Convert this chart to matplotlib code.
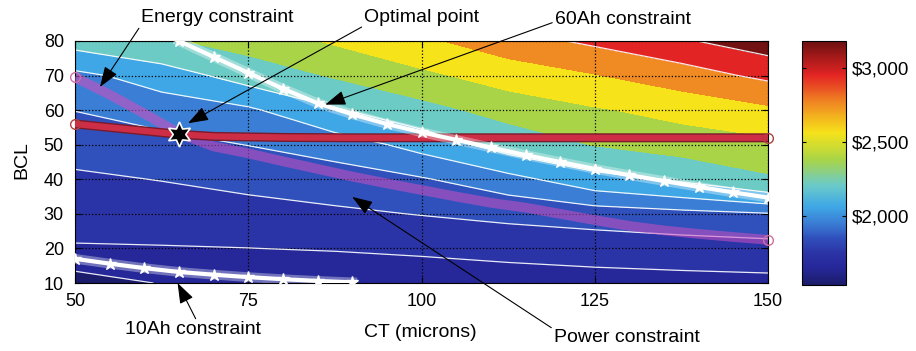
import numpy as np
import matplotlib
matplotlib.use('Agg')
import matplotlib.pyplot as plt
import matplotlib.patheffects as pe
from matplotlib.colors import LinearSegmentedColormap, Normalize
from matplotlib.cm import ScalarMappable

plt.rcParams['font.family'] = ['Liberation Sans', 'DejaVu Sans']

# grid of the cost surface
ct = [50, 62.5, 75, 87.5, 100, 112.5, 125, 137.5, 150]
bcl = [10, 20, 30, 40, 50, 60, 70, 80]
cost = [
    [1552, 1605, 1623, 1633, 1643, 1653, 1662, 1668, 1674],  # bcl 10
    [1693, 1695, 1699, 1706, 1717, 1732, 1745, 1756, 1764],  # bcl 20
    [1738, 1749, 1763, 1782, 1804, 1827, 1847, 1869, 1893],  # bcl 30
    [1784, 1803, 1830, 1858, 1891, 1961, 2075, 2146, 2266],  # bcl 40
    [1840, 1871, 1902, 1941, 2038, 2188, 2297, 2369, 2412],  # bcl 50
    [1902, 1941, 1980, 2109, 2232, 2353, 2441, 2519, 2622],  # bcl 60
    [1970, 2054, 2186, 2307, 2420, 2544, 2649, 2774, 2905],  # bcl 70
    [2180, 2264, 2366, 2482, 2620, 2780, 2900, 3018, 3140],  # bcl 80
]
levels = [1400, 1600, 1700, 1800, 1900, 2000, 2125, 2290, 2460, 2660, 2860, 3040, 3300]
line_levels = [1600, 1700, 1800, 1900, 2000, 2125, 2860, 3040]

# constraint curves
ah60_ct = [65, 70, 75, 80, 85, 90, 95, 100, 105, 110, 115, 120, 125, 130, 135, 140, 145, 150]
ah60_bcl = [80.0, 75.4, 70.8, 66.2, 62.0, 58.8, 56.0, 53.6, 51.4, 49.2, 47.0, 45.0, 43.0, 41.2, 39.5, 37.8, 36.2, 34.7]
ah10_ct = [50, 55, 60, 65, 70, 75, 80, 85, 90]
ah10_bcl = [17.0, 15.6, 14.3, 13.2, 12.4, 11.7, 11.1, 10.6, 10.2]
energy_ct = [50, 55, 60, 65]
energy_bcl = [69.5, 64.5, 59.0, 53.3]
power_ct = [65, 70, 75, 80, 85, 90, 95, 100, 105, 110, 115, 120, 125, 130, 135, 140, 145, 150]
power_bcl = [53.3, 49.5, 47.5, 45.2, 43.0, 40.8, 38.8, 36.9, 35.0, 33.2, 31.8, 30.0, 28.2, 26.5, 25.2, 24.2, 23.3, 22.5]
limit_ct = [50, 55, 60, 65, 70, 80, 90, 100, 110, 120, 130, 140, 150]
limit_bcl = [56.0, 55.0, 54.0, 53.0, 52.4, 52.1, 52.0, 52.0, 52.0, 52.0, 52.0, 52.0, 52.0]
opt_ct, opt_bcl = 65, 53.0

cbar_ticks = [2000, 2500, 3000]
cbar_labels = [r'\$2,000', r'\$2,500', r'\$3,000']

# muted jet, like the printed figure
vmin, vmax = 1530, 3180
stops = [(1530, '#1c1c6c'), (1650, '#26289a'), (1750, '#2b34a6'), (1850, '#3052bd'),
         (1950, '#3a7fd5'), (2062, '#40a8e6'), (2207, '#6ccbc8'), (2375, '#a8d448'),
         (2560, '#f6e31a'), (2760, '#f08a22'), (2950, '#e42424'), (3180, '#6e1010')]
cmap = LinearSegmentedColormap.from_list(
    'mjet', [((v - vmin) / (vmax - vmin), c) for v, c in stops])
norm = Normalize(vmin, vmax)

fig = plt.figure(figsize=(9.16, 3.51), dpi=100)
ax = fig.add_axes([0.0819, 0.1937, 0.7566, 0.6895])

X, Y = np.meshgrid(ct, bcl)
Z = np.array(cost)
ax.contourf(X, Y, Z, levels=levels, cmap=cmap, norm=norm)
ax.contour(X, Y, Z, levels=line_levels, colors='white', linewidths=0.9, alpha=0.9)

ax.grid(True, linestyle=':', color='black', linewidth=0.9)

# constraints
ax.plot(energy_ct, energy_bcl, color='#cc50c0', lw=7, alpha=0.6, solid_capstyle='butt', zorder=3)
ax.plot(power_ct, power_bcl, color='#cc50c0', lw=7, alpha=0.55, solid_capstyle='butt', zorder=3)
ax.plot(energy_ct[0], energy_bcl[0], 'o', ms=7, mfc='none', mec='#d070a0', clip_on=False, zorder=4)
ax.plot(power_ct[-1], power_bcl[-1], 'o', ms=7, mfc='none', mec='#d070a0', clip_on=False, zorder=4)

ax.plot(limit_ct, limit_bcl, color='#d8304a', lw=4.5, alpha=0.9, zorder=4,
        path_effects=[pe.Stroke(linewidth=6.5, foreground='#7a1a2a'), pe.Normal()])
ax.plot([limit_ct[0], limit_ct[-1]], [limit_bcl[0], limit_bcl[-1]], 'o', ms=7, mfc='none',
        mec='#b04040', clip_on=False, zorder=5)

for c_, b_ in [(ah60_ct, ah60_bcl), (ah10_ct, ah10_bcl)]:
    ax.plot(c_, b_, color='white', lw=7, alpha=0.35, zorder=4)
    ax.plot(c_, b_, color='white', lw=3, zorder=4)
    ax.plot(c_, b_, '*', color='white', ms=9, zorder=4)

ax.plot(opt_ct, opt_bcl, marker=(6, 1, 0), ms=18, color='black', mec='white', mew=1.2,
        zorder=10, clip_on=False)

ax.set_xlim(50, 150)
ax.set_ylim(10, 80)
ax.set_xticks([50, 75, 100, 125, 150])
ax.set_yticks([10, 20, 30, 40, 50, 60, 70, 80])
ax.tick_params(direction='in', top=True, right=True, length=4, labelsize=13)
ax.tick_params(axis='y', pad=8)
ax.tick_params(axis='x', pad=7)
for s in ax.spines.values():
    s.set_linewidth(0.8)

ax.set_xlabel('CT (microns)', fontsize=14, va='center')
ax.xaxis.set_label_coords(0.498, -0.2025)
ax.set_ylabel('BCL', fontsize=14, va='center')
ax.yaxis.set_label_coords(-0.0765, 0.508)

# annotations
def head():
    return dict(arrowstyle='-|>,head_length=0.7,head_width=0.25', color='black', lw=0.8,
                shrinkA=0, shrinkB=0, mutation_scale=18)

notes = [
    ('Energy constraint', (53.6, 66.7), (217, 334), (0.0, 0.0)),
    ('Optimal point', (66.3, 56.2), (422, 334), (0.0, 0.0)),
    ('60Ah constraint', (86.1, 61.6), (623, 331), (0.0, 0.4)),
    ('10Ah constraint', (64.8, 10.0), (193, 21), (0.53, 1.0)),
    ('Power constraint', (90.0, 34.9), (627, 13), (0.0, 1.0)),
]
for txt, xy, xyt, rp in notes:
    ap = head()
    ap['relpos'] = rp
    ax.annotate(txt, xy=xy, xycoords='data', xytext=xyt, textcoords='figure pixels',
                ha='center', va='center', fontsize=14, arrowprops=ap, zorder=12,
                annotation_clip=False)

# colorbar
cax = fig.add_axes([0.8755, 0.188, 0.048, 0.695])
sm = ScalarMappable(norm=norm, cmap=cmap)
cb = fig.colorbar(sm, cax=cax, ticks=cbar_ticks)
cb.ax.set_yticklabels(cbar_labels)
cb.ax.tick_params(direction='in', left=True, right=True, length=3, labelsize=13.5, pad=4)
cb.outline.set_linewidth(0.8)

fig.savefig('out.png', dpi=100)
